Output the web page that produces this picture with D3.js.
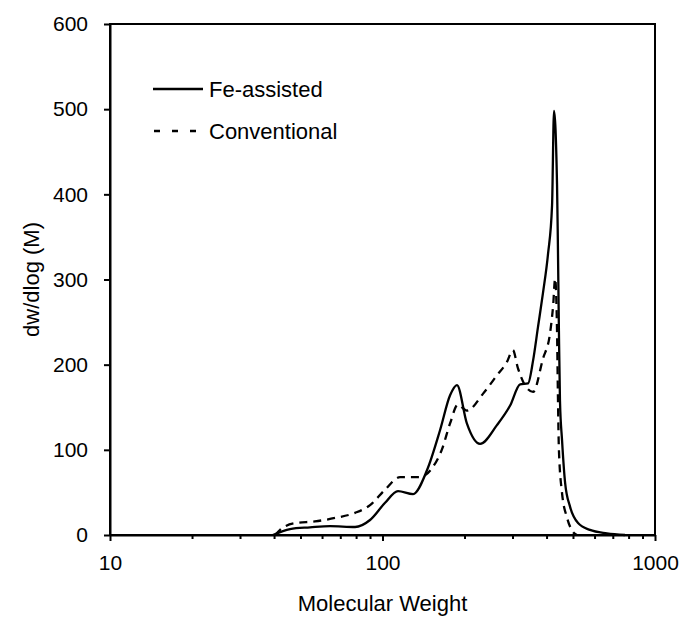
<!DOCTYPE html>
<html>
  <head>
    <meta charset="utf-8">
    <title>Molecular weight distribution</title>
    <script src="https://d3js.org/d3.v7.min.js"></script>
    <style>
      body {
        margin: 0;
        font-family: "Liberation Sans", Arial, sans-serif;
        background: #fff;
      }
      .axis text {
        font-size: 21px;
        fill: #000;
      }
      .axis path, .axis line {
        stroke: #000;
        stroke-width: 2px;
      }
      .label {
        font-size: 22px;
        fill: #000;
      }
      .series {
        fill: none;
        stroke: #000;
        stroke-width: 2.3px;
      }
    </style>
  </head>
  <body>
    <div id="chart"></div>
    <script>
      // molecular weight and dw/dlog(M)
      const feMW = [39.6, 45.8, 54.2, 64.2, 79.3, 90, 102, 114, 129.5, 145.6, 162.6, 177, 187.6, 204, 228, 263, 294, 320, 342, 357, 372, 388, 405, 419, 426, 437, 440, 444, 448, 456, 468, 488, 522, 577, 666, 776];
      const feVal = [0, 7, 9, 10.5, 9.4, 17.6, 37.5, 51.6, 48, 76, 123, 164, 176, 131, 107, 129, 152, 177, 178, 205, 244, 284, 330, 387, 498, 412, 346, 240, 158, 111, 61, 33, 14, 6, 2, 0];

      const convMW = [40.4, 42.1, 47.8, 56.5, 67, 79.3, 90, 102, 116, 137, 152, 165, 177, 189, 204, 234, 263, 286, 301, 314, 333, 357, 388, 412, 423, 430, 437, 440, 444, 456, 476, 500, 517];
      const convVal = [0, 6, 14, 16, 20, 26, 35, 53, 68, 68, 78.5, 100, 131, 153, 146, 166, 187.5, 203, 217, 196, 176, 168, 207, 237, 270, 301, 240, 170, 100, 49, 20, 3.5, 0];

      const yTicks = [0, 100, 200, 300, 400, 500, 600];
      const xMajor = [10, 100, 1000];
      const xMinor = [20, 30, 40, 50, 60, 70, 80, 90, 200, 300, 400, 500, 600, 700, 800, 900];
      const seriesNames = ["Fe-assisted", "Conventional"];

      const width = 681, height = 617;
      const plotL = 110, plotR = 655, plotT = 24, plotB = 535;

      const svg = d3.select("#chart").append("svg")
        .attr("width", width)
        .attr("height", height);

      const x = d3.scaleLog().domain([10, 1000]).range([plotL, plotR]);
      const y = d3.scaleLinear().domain([0, 600]).range([plotB, plotT]);

      // box
      svg.append("rect")
        .attr("x", plotL).attr("y", plotT)
        .attr("width", plotR - plotL).attr("height", plotB - plotT)
        .attr("fill", "none").attr("stroke", "#000").attr("stroke-width", 2);

      svg.append("g")
        .attr("class", "axis")
        .attr("transform", `translate(${plotL},0)`)
        .call(d3.axisLeft(y).tickValues(yTicks).tickSize(6).tickPadding(16).tickSizeOuter(0));

      svg.append("g")
        .attr("class", "axis")
        .attr("transform", `translate(0,${plotB})`)
        .call(d3.axisBottom(x).tickValues(xMajor).tickFormat(d3.format("d")).tickSize(6).tickPadding(14).tickSizeOuter(0));

      svg.append("g")
        .attr("class", "axis")
        .attr("transform", `translate(0,${plotB})`)
        .call(d3.axisBottom(x).tickValues(xMinor).tickFormat("").tickSize(4).tickSizeOuter(0))
        .select(".domain").remove();

      const line = d3.line()
        .x(d => x(d[0]))
        .y(d => y(d[1]))
        .curve(d3.curveMonotoneX);

      svg.append("path")
        .attr("class", "series")
        .attr("d", line(d3.zip(feMW, feVal)));

      svg.append("path")
        .attr("class", "series")
        .attr("stroke-width", 2.7)
        .attr("stroke-dasharray", "8,6")
        .attr("d", line(d3.zip(convMW, convVal)));

      // legend
      const legend = svg.append("g");
      legend.append("line")
        .attr("x1", 153).attr("x2", 203).attr("y1", 89).attr("y2", 89)
        .attr("stroke", "#000").attr("stroke-width", 2.3);
      legend.append("line")
        .attr("x1", 154).attr("x2", 197).attr("y1", 131).attr("y2", 131)
        .attr("stroke", "#000").attr("stroke-width", 2.7)
        .attr("stroke-dasharray", "6,12");
      legend.selectAll("text")
        .data(seriesNames)
        .join("text")
        .attr("class", "label")
        .attr("x", 209)
        .attr("y", (d, i) => 89 + i * 42)
        .attr("dy", "0.35em")
        .text(d => d);

      svg.append("text")
        .attr("class", "label")
        .attr("x", (plotL + plotR) / 2)
        .attr("y", 603)
        .attr("dy", "0.35em")
        .attr("text-anchor", "middle")
        .text("Molecular Weight");

      svg.append("text")
        .attr("class", "label")
        .attr("transform", `translate(31,${(plotT + plotB) / 2}) rotate(-90)`)
        .attr("dy", "0.35em")
        .attr("text-anchor", "middle")
        .text("dw/dlog (M)");
    </script>
  </body>
</html>
